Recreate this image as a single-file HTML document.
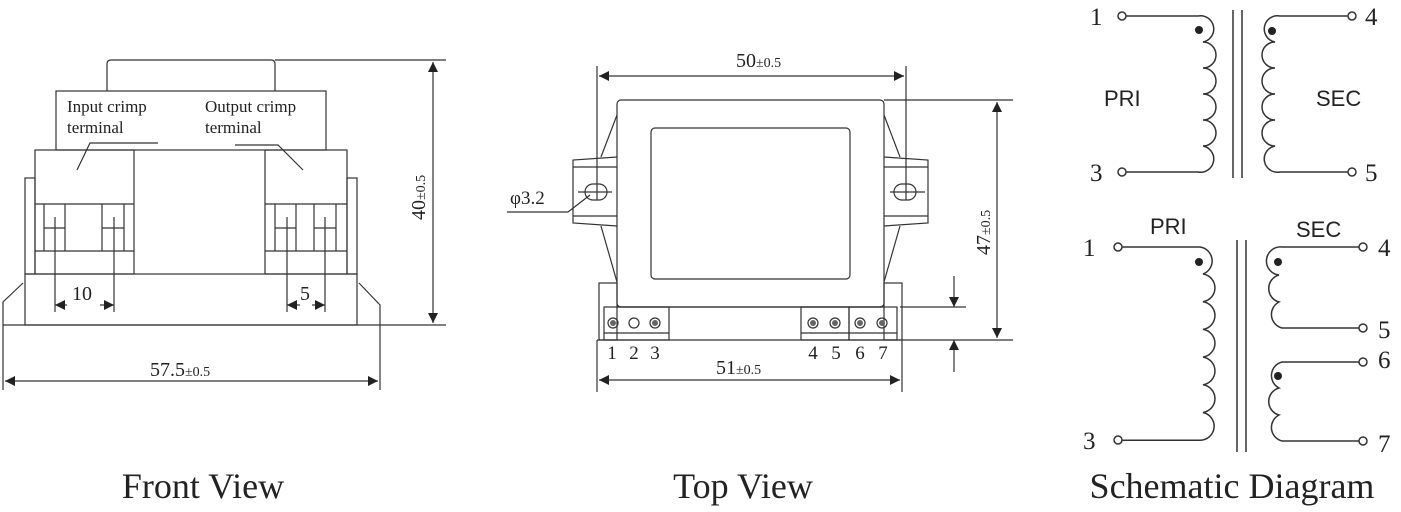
<!DOCTYPE html>
<html><head><meta charset="utf-8"><style>
html,body{margin:0;padding:0;background:#fff;}
svg{display:block;}
text{font-family:"Liberation Serif",serif;fill:#222;}
.s{font-family:"Liberation Sans",sans-serif;}
</style></head><body>
<svg width="1401" height="512" viewBox="0 0 1401 512" xmlns="http://www.w3.org/2000/svg">
<defs>
<marker id="a" viewBox="0 0 10 10" refX="10" refY="5" markerWidth="16" markerHeight="10" markerUnits="userSpaceOnUse" orient="auto-start-reverse"><path d="M0,0 L10,5 L0,10 z" fill="#222"/></marker>
</defs>
<g stroke="#333" stroke-width="1.2" fill="none">
<!-- FRONT VIEW -->
<path d="M107,91 V64 q0,-4 4,-4 H271 q4,0 4,4 V91"/>
<rect x="56" y="91" width="270" height="59"/>
<rect x="35" y="150" width="99" height="124"/>
<line x1="35" y1="204" x2="134" y2="204"/><line x1="35" y1="251" x2="134" y2="251"/>
<line x1="44" y1="204" x2="44" y2="251"/><line x1="65" y1="204" x2="65" y2="251"/>
<line x1="102" y1="204" x2="102" y2="251"/><line x1="124" y1="204" x2="124" y2="251"/>
<line x1="44" y1="228" x2="65" y2="228"/><line x1="102" y1="228" x2="124" y2="228"/>
<rect x="265" y="150" width="82" height="124"/>
<line x1="265" y1="204" x2="347" y2="204"/><line x1="265" y1="251" x2="347" y2="251"/>
<line x1="275" y1="204" x2="275" y2="251"/><line x1="296" y1="204" x2="296" y2="251"/>
<line x1="314" y1="204" x2="314" y2="251"/><line x1="336" y1="204" x2="336" y2="251"/>
<line x1="275" y1="228" x2="296" y2="228"/><line x1="314" y1="228" x2="336" y2="228"/>
<rect x="25" y="178" width="10" height="96"/><rect x="347" y="178" width="10" height="96"/>
<rect x="25" y="274" width="332" height="51"/>
<path d="M23,283 L3,302 V390"/><path d="M359,283 L380,305 V390"/>
<line x1="3" y1="325" x2="446" y2="325"/>
<line x1="275" y1="60" x2="446" y2="60"/>
<line x1="55" y1="217" x2="55" y2="312"/><line x1="114" y1="217" x2="114" y2="312"/>
<line x1="287" y1="217" x2="287" y2="312"/><line x1="325" y1="217" x2="325" y2="312"/>
<line x1="67" y1="305" x2="55" y2="305" marker-end="url(#a)"/><line x1="100" y1="305" x2="114" y2="305" marker-end="url(#a)"/>
<line x1="300" y1="305" x2="287" y2="305" marker-end="url(#a)"/><line x1="312" y1="305" x2="325" y2="305" marker-end="url(#a)"/>
<line x1="433" y1="62" x2="433" y2="323" marker-start="url(#a)" marker-end="url(#a)"/>
<line x1="5" y1="381" x2="378" y2="381" marker-start="url(#a)" marker-end="url(#a)"/>
<path d="M77,170 L90,143 H158"/><path d="M303,170 L278,145 H235"/>

<!-- TOP VIEW -->
<rect x="617" y="100" width="267" height="207" rx="4"/>
<rect x="651" y="128" width="199" height="151" rx="4"/>
<path d="M617,157 L573,160 V223 L617,226"/><line x1="573" y1="167" x2="617" y2="167"/><line x1="573" y1="216" x2="617" y2="216"/>
<path d="M601,157 L617,115"/><path d="M601,226 L617,282"/>
<path d="M884,157 L928,160 V223 L884,226"/><line x1="884" y1="167" x2="928" y2="167"/><line x1="884" y1="216" x2="928" y2="216"/>
<path d="M900,157 L884,115"/><path d="M900,226 L884,282"/>
<rect x="585" y="184" width="22" height="16" rx="8"/><line x1="578" y1="192" x2="612" y2="192"/>
<rect x="894" y="184" width="22" height="16" rx="8"/><line x1="890" y1="192" x2="925" y2="192"/>
<path d="M507,212 H568 L590,195"/>
<rect x="599" y="283" width="18" height="57"/><rect x="884" y="283" width="18" height="57"/>
<line x1="597" y1="340" x2="902" y2="340"/><line x1="617" y1="307" x2="884" y2="307"/>
<rect x="604" y="307" width="65" height="33"/><line x1="604" y1="333" x2="669" y2="333"/>
<rect x="801" y="307" width="48" height="33"/><rect x="849" y="307" width="48" height="33"/><line x1="801" y1="333" x2="897" y2="333"/>
<line x1="597" y1="66" x2="597" y2="200"/><line x1="906" y1="66" x2="906" y2="200"/>
<line x1="599" y1="76" x2="904" y2="76" marker-start="url(#a)" marker-end="url(#a)"/>
<line x1="884" y1="100" x2="1013" y2="100"/><line x1="902" y1="340" x2="1013" y2="340"/>
<line x1="997" y1="102" x2="997" y2="338" marker-start="url(#a)" marker-end="url(#a)"/>
<line x1="900" y1="307" x2="966" y2="307"/>
<line x1="954" y1="276" x2="954" y2="307" marker-end="url(#a)"/><line x1="954" y1="372" x2="954" y2="340" marker-end="url(#a)"/>
<line x1="597" y1="340" x2="597" y2="392"/><line x1="902" y1="340" x2="902" y2="392"/>
<line x1="599" y1="380" x2="900" y2="380" marker-start="url(#a)" marker-end="url(#a)"/>
</g>
<g fill="none" stroke="#333" stroke-width="1.2">
<circle cx="613" cy="323" r="5"/><circle cx="634" cy="323" r="5"/><circle cx="655" cy="323" r="5"/>
<circle cx="813" cy="323" r="5"/><circle cx="835" cy="323" r="5"/><circle cx="860" cy="323" r="5"/><circle cx="882" cy="323" r="5"/>
</g>
<g fill="#666"><circle cx="613" cy="323" r="3"/><circle cx="655" cy="323" r="3"/><circle cx="813" cy="323" r="3"/><circle cx="835" cy="323" r="3"/><circle cx="860" cy="323" r="3"/><circle cx="882" cy="323" r="3"/></g>

<!-- SCHEMATIC -->
<g stroke="#333" stroke-width="1.5" fill="none">
<circle cx="1122" cy="16" r="4"/><circle cx="1122" cy="172" r="4"/><circle cx="1352" cy="16" r="4"/><circle cx="1352" cy="172" r="4"/>
<path d="M1126,16 H1198 A13,13 0 0 1 1203,42 a13,13 0 0 1 0,26 a13,13 0 0 1 0,26 a13,13 0 0 1 0,26 a13,13 0 0 1 0,26 a13,13 0 0 1 -5,26 H1126"/>
<path d="M1348,16 H1280 A13,13 0 0 0 1275,42 a13,13 0 0 0 0,26 a13,13 0 0 0 0,26 a13,13 0 0 0 0,26 a13,13 0 0 0 0,26 a13,13 0 0 0 5,26 H1348"/>
<line x1="1233" y1="10" x2="1233" y2="178"/><line x1="1242" y1="10" x2="1242" y2="178"/>
<circle cx="1118" cy="247" r="4"/><circle cx="1118" cy="440" r="4"/>
<path d="M1122,247 H1200 A14,14 0 0 1 1203,274 a14,14 0 0 1 0,27.7 a14,14 0 0 1 0,27.7 a14,14 0 0 1 0,27.7 a14,14 0 0 1 0,27.7 a14,14 0 0 1 0,27.7 a14,14 0 0 1 -3,27.7 H1122"/>
<line x1="1237" y1="240" x2="1237" y2="452"/><line x1="1246" y1="240" x2="1246" y2="452"/>
<circle cx="1363" cy="247" r="4"/><circle cx="1363" cy="328" r="4"/><circle cx="1363" cy="362" r="4"/><circle cx="1363" cy="441" r="4"/>
<path d="M1359,247 H1282 A14,14 0 0 0 1279,275 a14,14 0 0 0 0,27 a14,14 0 0 0 3,26 H1359"/>
<path d="M1359,362 H1282 A14,14 0 0 0 1279,388 a14,14 0 0 0 0,27 a14,14 0 0 0 3,26 H1359"/>
</g>
<g fill="#222"><circle cx="1199" cy="30" r="4"/><circle cx="1272" cy="31" r="4"/><circle cx="1199" cy="262" r="4"/><circle cx="1278" cy="262" r="4"/><circle cx="1278" cy="376" r="4"/></g>

<!-- TEXT -->
<g font-size="17">
<text x="67" y="112">Input crimp</text><text x="67" y="133">terminal</text>
<text x="205" y="112">Output crimp</text><text x="205" y="133">terminal</text>
</g>
<text x="72" y="300" font-size="20">10</text>
<text x="300" y="300" font-size="20">5</text>
<text x="150" y="376" font-size="20">57.5<tspan font-size="14">±0.5</tspan></text>
<text transform="translate(425,220) rotate(-90)" font-size="20">40<tspan font-size="14">±0.5</tspan></text>
<text x="736" y="67" font-size="20">50<tspan font-size="14">±0.5</tspan></text>
<text transform="translate(990,255) rotate(-90)" font-size="20">47<tspan font-size="14">±0.5</tspan></text>
<text x="716" y="374" font-size="20">51<tspan font-size="14">±0.5</tspan></text>
<text x="510" y="204" font-size="19">φ3.2</text>
<g font-size="19" text-anchor="middle">
<text x="612" y="359">1</text><text x="634" y="359">2</text><text x="655" y="359">3</text>
<text x="813" y="359">4</text><text x="836" y="359">5</text><text x="860" y="359">6</text><text x="883" y="359">7</text>
</g>
<g font-size="25">
<text x="1090" y="25">1</text><text x="1090" y="181">3</text><text x="1365" y="25">4</text><text x="1365" y="181">5</text>
<text x="1083" y="256">1</text><text x="1083" y="449">3</text><text x="1378" y="256">4</text><text x="1378" y="338">5</text><text x="1378" y="368">6</text><text x="1378" y="452">7</text>
</g>
<g class="s" font-size="22">
<text class="s" x="1104" y="106">PRI</text><text class="s" x="1316" y="106">SEC</text>
<text class="s" x="1150" y="234">PRI</text><text class="s" x="1296" y="237">SEC</text>
</g>
<g font-size="36" text-anchor="middle">
<text x="203" y="498">Front View</text><text x="743" y="498">Top View</text><text x="1232" y="498">Schematic Diagram</text>
</g>
</svg>
</body></html>
